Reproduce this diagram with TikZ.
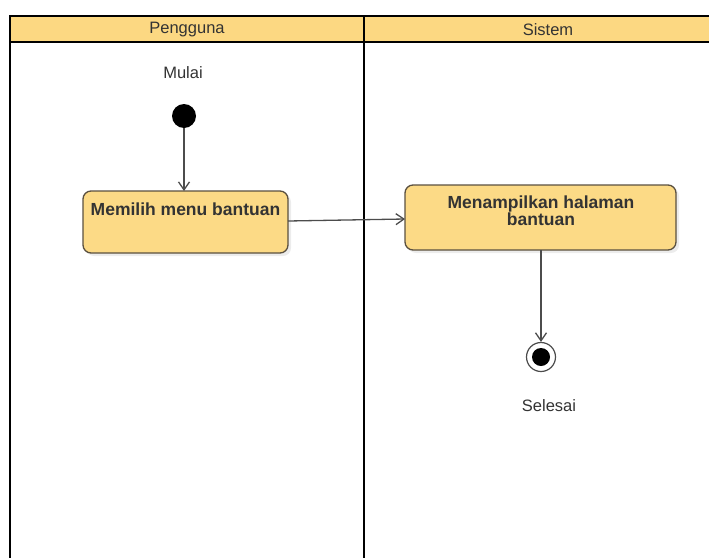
\documentclass[tikz,border=0pt]{standalone}
\usepackage{fontspec}
\setmainfont{Liberation Sans}
\usetikzlibrary{arrows.meta,shadows}
\definecolor{lane}{HTML}{FCD882}
\definecolor{act}{HTML}{FCDA86}
\definecolor{actline}{HTML}{5A5040}
\definecolor{txt}{HTML}{333333}
\tikzset{
  frame/.style={line width=2.8pt,black},
  actbox/.style={draw=actline,line width=1.3pt,fill=act,rounded corners=8pt,
    drop shadow={shadow xshift=3pt,shadow yshift=-3pt,fill=black!12,opacity=0.6}},
  flow/.style={draw=black!70,line width=1.3pt,-{Straight Barb[length=8pt,width=11pt]}},
  lbl/.style={font=\fontsize{16.5}{18}\selectfont,text=txt},
  acttxt/.style={font=\bfseries\fontsize{17.5}{16}\selectfont,text=black!80,align=center}
}
\begin{document}
\begin{tikzpicture}[x=1pt,y=-1pt]
\useasboundingbox (0,0) rectangle (709,557);
% header
\fill[lane] (10,16) rectangle (720,42);
\draw[frame] (10,560) -- (10,16) -- (720,16);
\draw[frame] (10,42) -- (720,42);
\draw[frame] (364,16) -- (364,560);
\node[lbl] (h1) at (187,30) {Pengguna};
\node[lbl] (h2) at (548,30) {Sistem};
% start
\node[lbl] (mulai) at (183,73) {Mulai};
\node[circle,fill=black,minimum size=24pt,inner sep=0pt] (start) at (184,116) {};
% activities
\draw[actbox] (83,191) rectangle (288,253);
\coordinate (b1n) at (184,191);
\coordinate (b1e) at (288,221);
\node[acttxt] (t1) at (185.5,209) {Memilih menu bantuan};
\draw[actbox] (405,185) rectangle (676,250);
\coordinate (b2w) at (405,219);
\coordinate (b2s) at (541,250);
\node[acttxt] (t2) at (541,211) {Menampilkan halaman\\bantuan};
% end
\node[circle,draw=black!70,line width=1.2pt,fill=white,minimum size=29pt,inner sep=0pt] (endo) at (541,357) {};
\node[circle,fill=black,minimum size=18pt,inner sep=0pt] (endi) at (541,357) {};
\node[lbl] (selesai) at (549,406) {Selesai};
% flows
\draw[flow] (start) -- (b1n);
\draw[flow] (b1e) -- (b2w);
\draw[flow] (b2s) -- (endo);
\end{tikzpicture}
\end{document}
